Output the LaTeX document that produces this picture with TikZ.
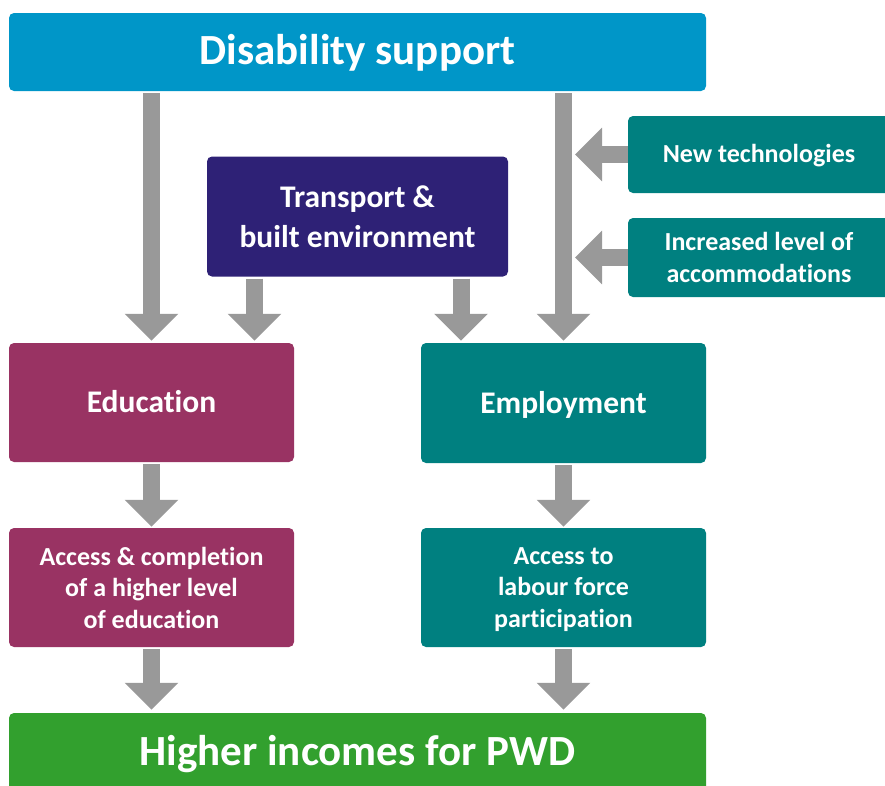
\documentclass[tikz,border=0pt]{standalone}
\usepackage{fontspec}
\setmainfont{Carlito}[Ligatures=NoCommon]
\usetikzlibrary{arrows.meta,calc}
\definecolor{cblue}{RGB}{0,150,200}
\definecolor{cnavy}{RGB}{46,33,118}
\definecolor{cteal}{RGB}{0,128,128}
\definecolor{cmaroon}{RGB}{153,51,99}
\definecolor{cgreen}{RGB}{50,160,46}
\definecolor{cgray}{RGB}{153,153,153}
\begin{document}
\begin{tikzpicture}[x=1pt,y=-1pt,
  box/.style={rounded corners=5pt, inner sep=0pt, text=white, align=center},
  big/.style={font=\bfseries\fontsize{43}{50}\selectfont},
  mid/.style={font=\bfseries\fontsize{31.5}{40}\selectfont},
  small/.style={font=\bfseries\fontsize{26}{31.5}\selectfont},
  oneline/.style={text height=#1, text depth=0pt},
  garrow/.style={draw=cgray, line width=17pt, -{Triangle[width=52pt,length=27pt]}}]
\useasboundingbox (0,0) rectangle (885,785);
\node[box, big, oneline=24pt, fill=cblue, minimum width=697pt, minimum height=78pt] (ds) at (357.5,52) {Disability support};
\node[box, mid, fill=cnavy, minimum width=301pt, minimum height=120pt] (tr) at (357.5,216.5) {Transport \&\\built environment};
\node[box, small, oneline=16.5pt, fill=cteal, minimum width=262pt, minimum height=77pt] (nt) at (759,154.5) {New technologies};
\node[box, small, fill=cteal, minimum width=262pt, minimum height=79pt] (inc) at (759,257.5) {Increased level of\\accommodations};
\node[box, mid, oneline=20pt, fill=cmaroon, minimum width=285pt, minimum height=119pt] (edu) at (151.5,402.5) {Education};
\node[box, mid, oneline=20pt, fill=cteal, minimum width=285pt, minimum height=120pt] (emp) at (563.5,403) {Employment};
\node[box, small, fill=cmaroon, minimum width=285pt, minimum height=119pt] (acc) at (151.5,587.5) {Access \& completion\\of a higher level\\of education};
\node[box, small, fill=cteal, minimum width=285pt, minimum height=119pt] (lab) at (563.5,587.5) {Access to\\labour force\\\smash{participation}};
\node[box, big, oneline=26pt, fill=cgreen, minimum width=697pt, minimum height=78pt] (hi) at (357.5,752) {Higher incomes for PWD};
\coordinate (vr) at (575,0);
\draw[garrow] ([yshift=-2pt]ds.south -| edu.north) -- ([yshift=2pt]edu.north);
\draw[garrow] ([yshift=-2pt]ds.south -| emp.north) -- ([yshift=2pt]emp.north);
\draw[garrow] ([xshift=-103pt,yshift=-2pt]tr.south) -- ([xshift=-103pt,yshift=2pt]tr.south |- edu.north);
\draw[garrow] ([xshift=103.5pt,yshift=-2pt]tr.south) -- ([xshift=103.5pt,yshift=2pt]tr.south |- emp.north);
\draw[garrow] (nt.west) -- (nt.west -| vr);
\draw[garrow] (inc.west) -- (inc.west -| vr);
\draw[garrow] ([yshift=-2pt]edu.south) -- ([yshift=1pt]acc.north);
\draw[garrow] ([yshift=-2pt]emp.south) -- ([yshift=1pt]lab.north);
\draw[garrow] ([yshift=-2pt]acc.south) -- ([yshift=3pt]hi.north -| acc.south);
\draw[garrow] ([yshift=-2pt]lab.south) -- ([yshift=3pt]hi.north -| lab.south);
\end{tikzpicture}
\end{document}
